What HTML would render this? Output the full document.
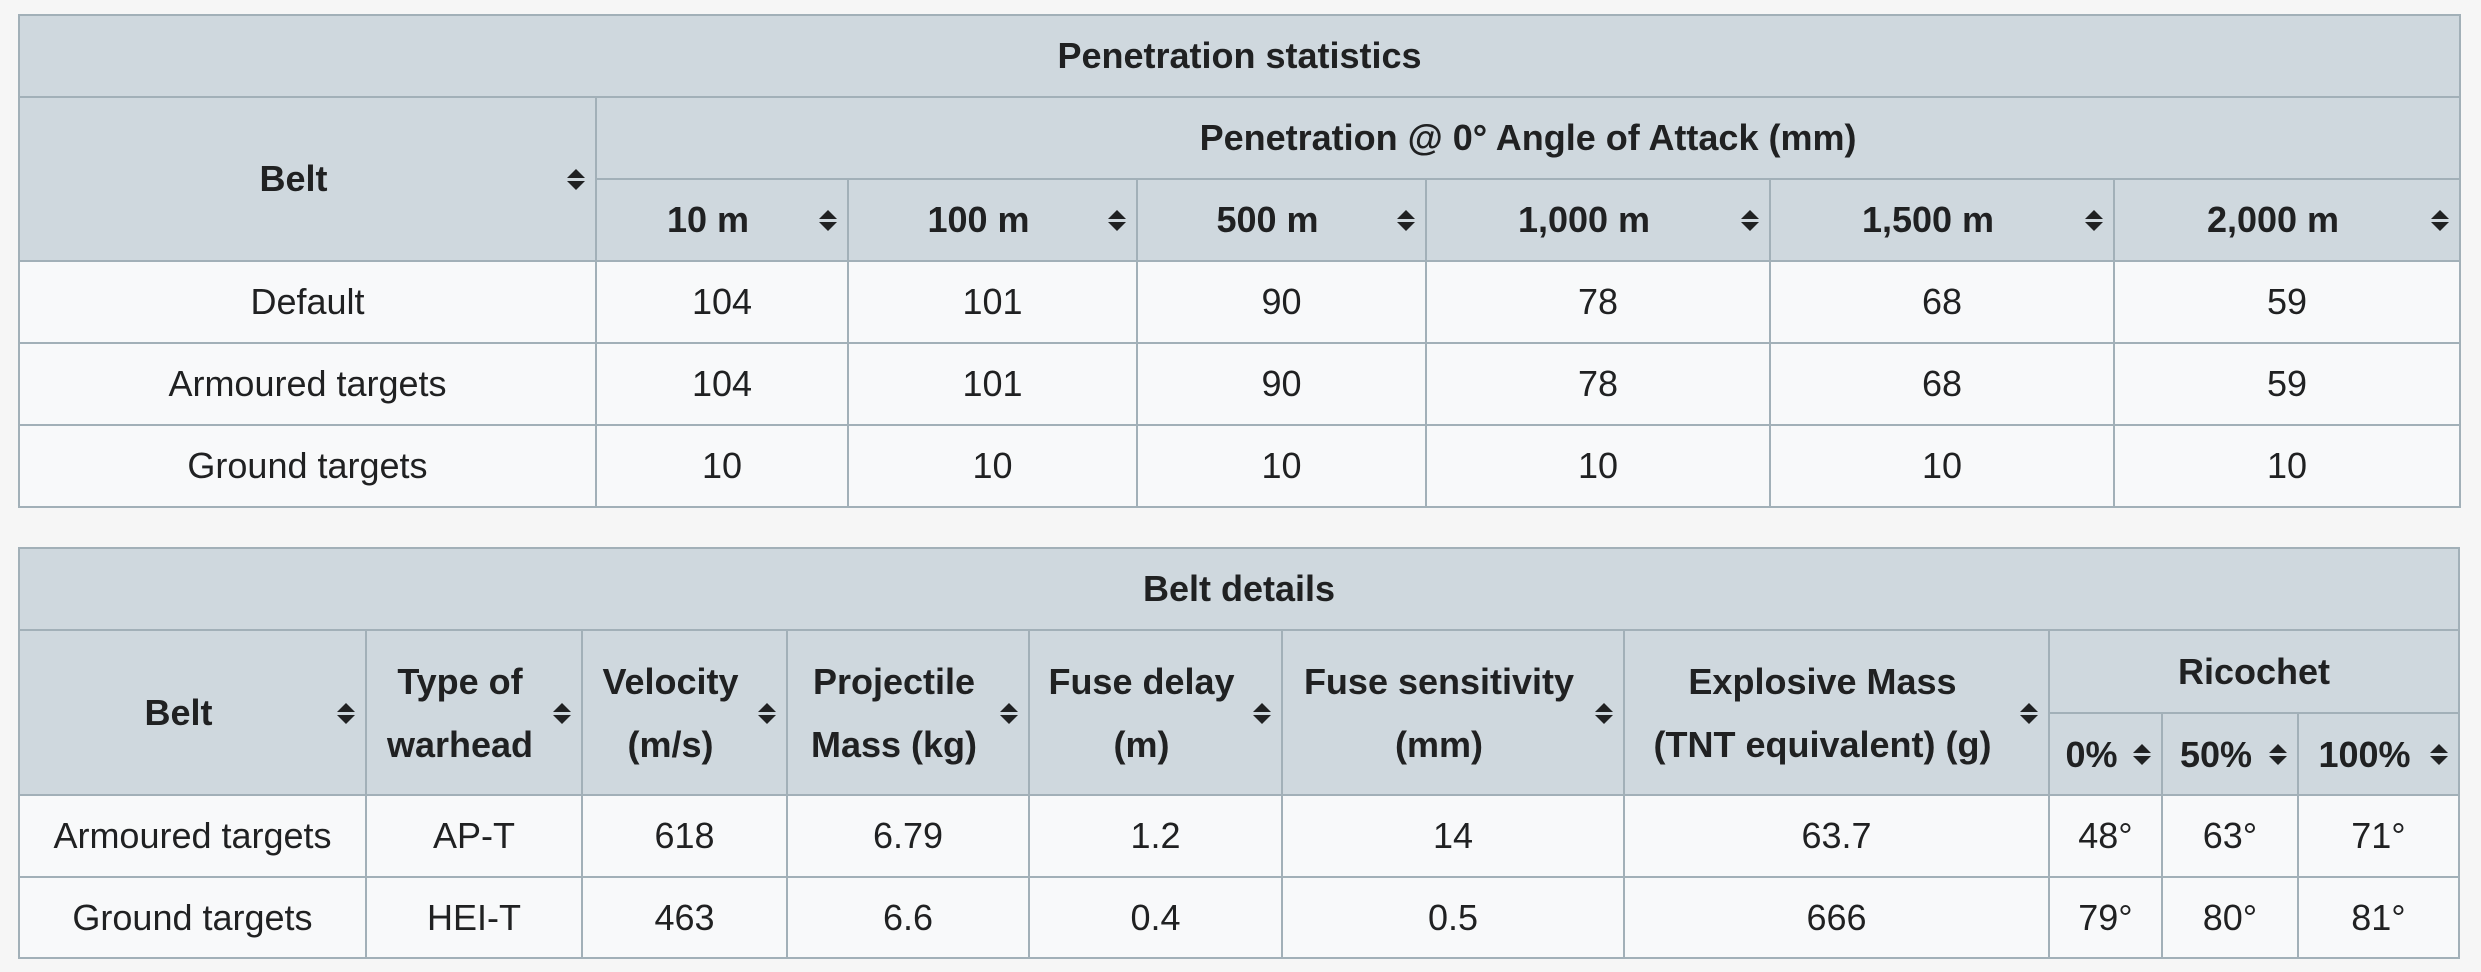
<!DOCTYPE html>
<html><head><meta charset="utf-8"><style>
body{margin:0;background:#f6f6f6;width:2481px;height:972px;position:relative;overflow:hidden;font-family:"Liberation Sans",Arial,sans-serif;color:#202122}
table{position:absolute;left:18px;border-collapse:collapse;table-layout:fixed;font-size:36px}
td,th{border:2px solid #a2b0b8;text-align:center;padding:0;overflow:hidden}
th{background:#cfd8de;font-weight:bold;position:relative}
td{background:#f8f9fa}
.s{position:absolute;right:10px;top:50%;margin-top:-10px;width:18px;height:21px}
.s:before,.s:after{content:"";position:absolute;left:0;border-left:9px solid transparent;border-right:9px solid transparent}
.s:before{top:0;border-bottom:9px solid #202122}
.s:after{bottom:0;border-top:9px solid #202122}
.p{padding-right:28px}
.m th{line-height:63px}
</style></head><body>
<table style="top:14px;width:2441px">
<colgroup><col style="width:577px"><col style="width:252px"><col style="width:289px"><col style="width:289px"><col style="width:344px"><col style="width:344px"><col style="width:346px"></colgroup>
<tr style="height:82px"><th colspan="7">Penetration statistics</th></tr>
<tr style="height:82px"><th rowspan="2" class="p">Belt<span class="s"></span></th><th colspan="6">Penetration @ 0° Angle of Attack (mm)</th></tr>
<tr style="height:82px"><th class="p">10 m<span class="s"></span></th><th class="p">100 m<span class="s"></span></th><th class="p">500 m<span class="s"></span></th><th class="p">1,000 m<span class="s"></span></th><th class="p">1,500 m<span class="s"></span></th><th class="p">2,000 m<span class="s"></span></th></tr>
<tr style="height:82px"><td>Default</td><td>104</td><td>101</td><td>90</td><td>78</td><td>68</td><td>59</td></tr>
<tr style="height:82px"><td>Armoured targets</td><td>104</td><td>101</td><td>90</td><td>78</td><td>68</td><td>59</td></tr>
<tr style="height:82px"><td>Ground targets</td><td>10</td><td>10</td><td>10</td><td>10</td><td>10</td><td>10</td></tr>
</table>
<table class="m" style="top:547px;width:2440px">
<colgroup><col style="width:347px"><col style="width:216px"><col style="width:205px"><col style="width:242px"><col style="width:253px"><col style="width:342px"><col style="width:425px"><col style="width:113px"><col style="width:136px"><col style="width:161px"></colgroup>
<tr style="height:82px"><th colspan="10" style="line-height:normal">Belt details</th></tr>
<tr style="height:83px"><th rowspan="2" class="p">Belt<span class="s"></span></th><th rowspan="2" class="p">Type of<br>warhead<span class="s"></span></th><th rowspan="2" class="p">Velocity<br>(m/s)<span class="s"></span></th><th rowspan="2" class="p">Projectile<br>Mass (kg)<span class="s"></span></th><th rowspan="2" class="p">Fuse delay<br>(m)<span class="s"></span></th><th rowspan="2" class="p">Fuse sensitivity<br>(mm)<span class="s"></span></th><th rowspan="2" class="p">Explosive Mass<br>(TNT equivalent) (g)<span class="s"></span></th><th colspan="3" style="line-height:normal">Ricochet</th></tr>
<tr style="height:82px"><th class="p">0%<span class="s"></span></th><th class="p">50%<span class="s"></span></th><th class="p">100%<span class="s"></span></th></tr>
<tr style="height:82px"><td>Armoured targets</td><td>AP-T</td><td>618</td><td>6.79</td><td>1.2</td><td>14</td><td>63.7</td><td>48°</td><td>63°</td><td>71°</td></tr>
<tr style="height:81px"><td>Ground targets</td><td>HEI-T</td><td>463</td><td>6.6</td><td>0.4</td><td>0.5</td><td>666</td><td>79°</td><td>80°</td><td>81°</td></tr>
</table>
</body></html>
